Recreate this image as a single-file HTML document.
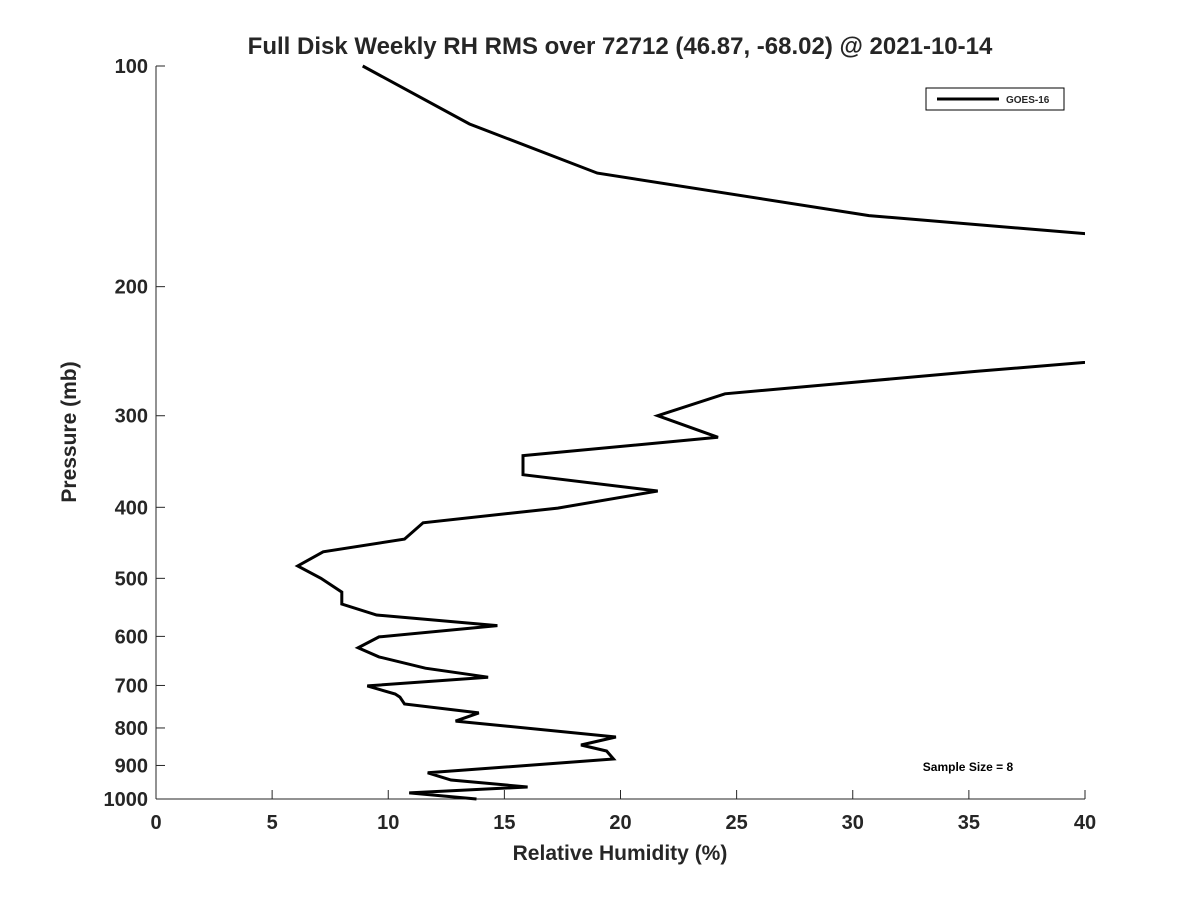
<!DOCTYPE html>
<html><head><meta charset="utf-8"><style>
body{margin:0;background:#fff;}
svg text{font-family:"Liberation Sans","DejaVu Sans",sans-serif;font-weight:bold;fill:#262626;}
</style></head><body>
<svg id="chart" width="1200" height="900" xmlns="http://www.w3.org/2000/svg">
<rect width="1200" height="900" fill="#fff"/>
<defs><clipPath id="plotclip"><rect x="156" y="60" width="929" height="745"/></clipPath></defs>
<text x="620" y="54" text-anchor="middle" font-size="24">Full Disk Weekly RH RMS over 72712 (46.87, -68.02) @ 2021-10-14</text>
<g id="axes"></g>
<g id="series" clip-path="url(#plotclip)"></g>
<text x="620" y="860" text-anchor="middle" font-size="21">Relative Humidity (%)</text>
<text transform="translate(76,432) rotate(-90)" text-anchor="middle" font-size="21">Pressure (mb)</text>
<g>
<rect x="926" y="88" width="138" height="22" fill="#fff" stroke="#000" stroke-width="1"/>
<line x1="937" y1="99" x2="999" y2="99" stroke="#000" stroke-width="3"/>
<text x="1006" y="103" font-size="10" fill="#000">GOES-16</text>
</g>
<text x="968" y="771" text-anchor="middle" font-size="12" style="fill:#000">Sample Size = 8</text>
</svg>
<script>
const rhValues=[8.9,13.5,19.0,30.7,50,60,35.3,24.5,21.6,24.2,15.8,15.8,21.6,17.3,11.5,10.7,7.2,6.1,7.1,8.0,8.0,9.5,14.7,9.6,8.7,9.6,11.6,14.3,9.1,10.3,10.5,10.7,13.9,12.9,19.8,18.3,19.4,19.7,11.7,12.7,16.0,10.9,13.8];
const pressures=[100,120,140,160,180,225,261,280,300,321,340,361,380,401,420,442,460,481,500,522,542,561,580,601,622,640,663,682,701,719,726,742,763,783,823,844,860,882,921,942,963,981,1000];
const xTicks=[0,5,10,15,20,25,30,35,40];
const yTicks=[100,200,300,400,500,600,700,800,900,1000];
const X0=156,X1=1085,Y0=66,Y1=799;
const xs=v=>X0+(v/40)*(X1-X0);
const ys=p=>Y0+Math.log10(p/100)*(Y1-Y0);
const NS="http://www.w3.org/2000/svg";
const axes=document.getElementById('axes');
function mk(tag,attrs,parent){const e=document.createElementNS(NS,tag);for(const k in attrs)e.setAttribute(k,attrs[k]);parent.appendChild(e);return e;}
const xl=mk('line',{x1:X0,y1:Y1,x2:X1,y2:Y1,stroke:'#262626','stroke-width':1},axes);


const yl=mk('line',{x1:X0,y1:Y0,x2:X0,y2:Y1,stroke:'#262626','stroke-width':1},axes);


xTicks.forEach(t=>{
  const x=xs(t);
  mk('line',{x1:x,y1:Y1,x2:x,y2:Y1-9,stroke:'#262626'},axes);
  const tx=mk('text',{x:x,y:Y1+30,'text-anchor':'middle','font-size':20},axes);
  tx.textContent=t;
  
  
});
yTicks.forEach(t=>{
  const y=ys(t);
  mk('line',{x1:X0,y1:y,x2:X0+9,y2:y,stroke:'#262626'},axes);
  const tx=mk('text',{x:X0-8,y:y+7,'text-anchor':'end','font-size':20},axes);
  tx.textContent=t;
  
  
});
const pts=rhValues.map((v,i)=>xs(v).toFixed(1)+','+ys(pressures[i]).toFixed(1)).join(' ');
const pl=mk('polyline',{points:pts,fill:'none',stroke:'#000','stroke-width':3,'stroke-linejoin':'miter'},document.getElementById('series'));


</script>
</body></html>
